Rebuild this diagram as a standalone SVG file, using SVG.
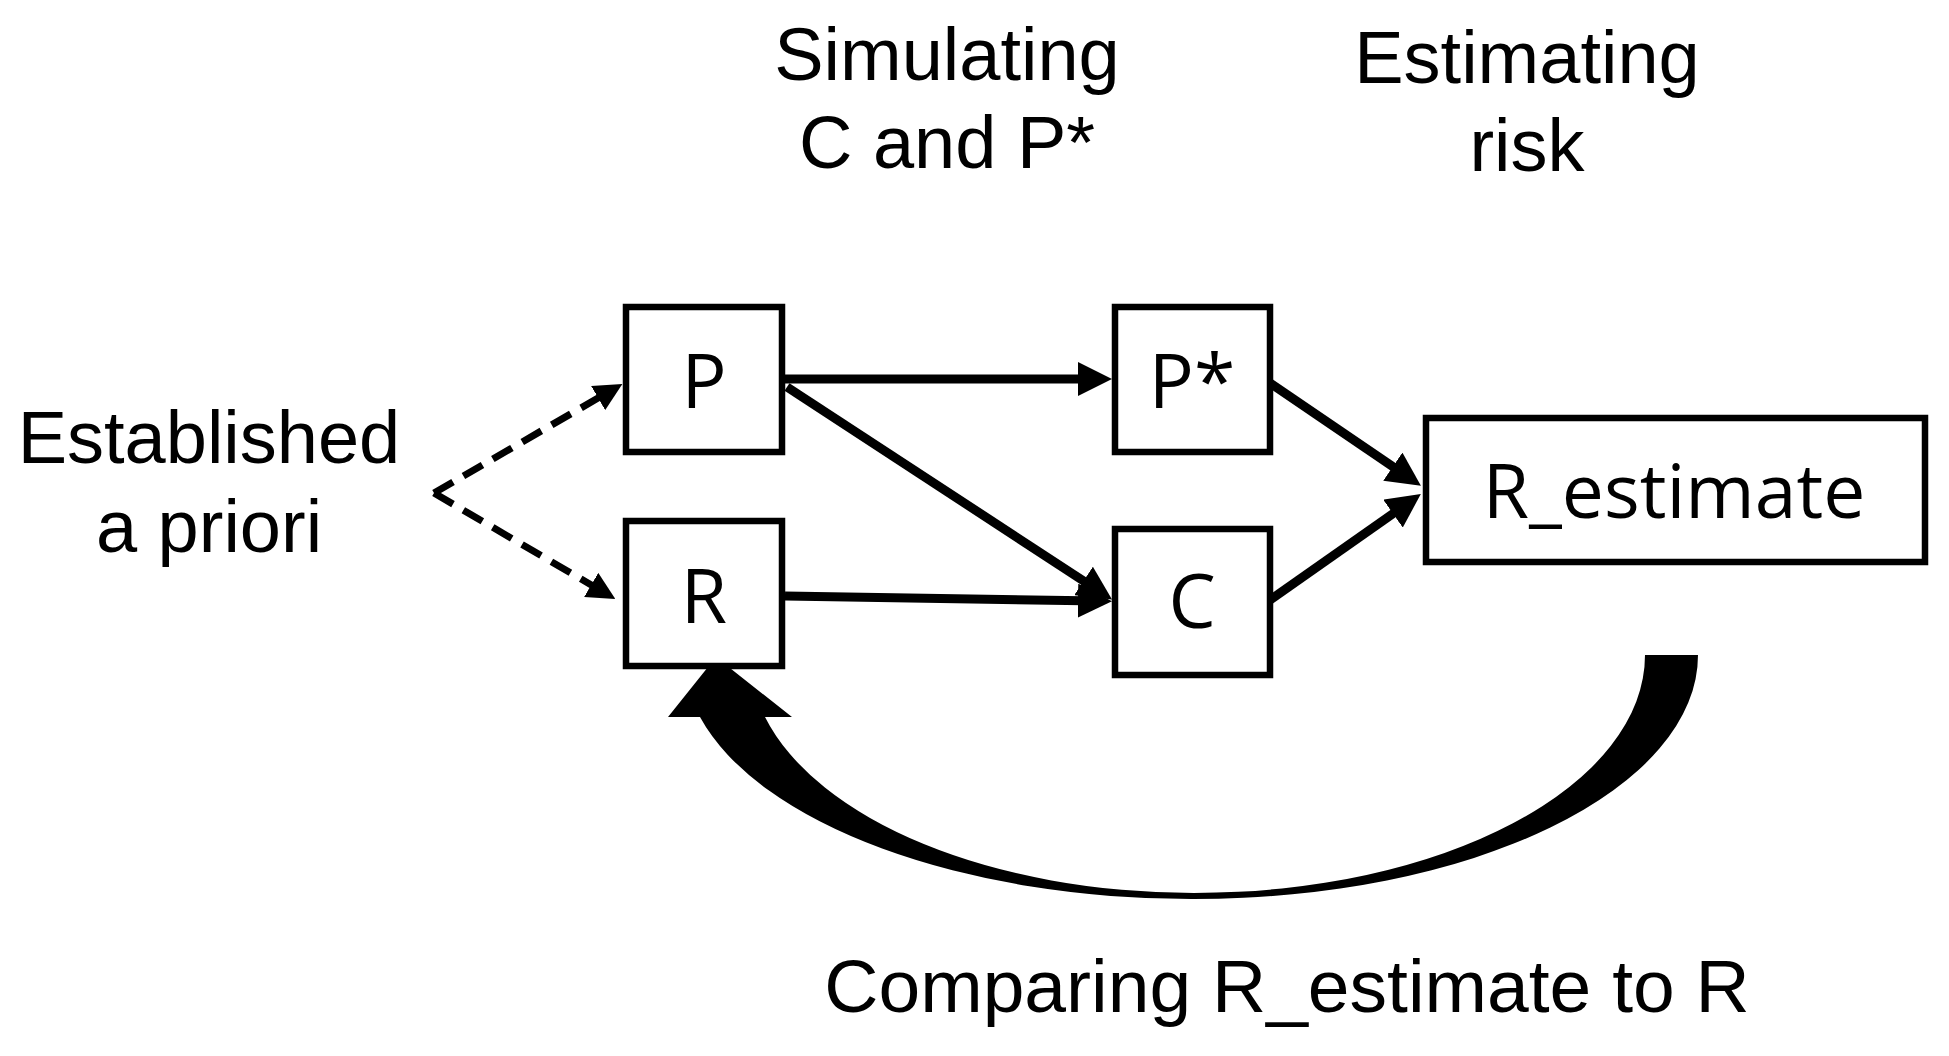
<svg xmlns="http://www.w3.org/2000/svg" width="1949" height="1056" viewBox="0 0 1949 1056">
  <style>
    .box { fill: #ffffff; stroke: #000000; stroke-width: 6.5; }
    .lbl { font-family: "Open Sans", "Noto Sans", sans-serif; font-size: 75px; fill: #000000; text-anchor: middle; }
    .cap { font-family: "Liberation Sans", Arial, sans-serif; font-size: 74px; fill: #000000; text-anchor: middle; }
    .solid { fill: none; stroke: #000000; stroke-width: 9; marker-end: url(#head); }
    .dash { fill: none; stroke: #000000; stroke-width: 7; stroke-dasharray: 22 12; marker-end: url(#headDash); }
  </style>
  <defs>
    <marker id="head" markerUnits="userSpaceOnUse" viewBox="0 0 34 34" markerWidth="34" markerHeight="34" refX="22" refY="17" orient="auto">
      <path d="M0,0 L34,17 L0,34 Z" fill="#000000"/>
    </marker>
    <marker id="headDash" markerUnits="userSpaceOnUse" viewBox="0 0 28 28" markerWidth="28" markerHeight="28" refX="16" refY="14" orient="auto">
      <path d="M0,0 L28,14 L0,28 Z" fill="#000000"/>
    </marker>
  </defs>

  <rect width="1949" height="1056" fill="#ffffff"/>

  <g id="title-simulating">
    <text class="cap" x="947" y="80">Simulating</text>
    <text class="cap" x="947" y="168">C and P*</text>
  </g>
  <g id="title-estimating">
    <text class="cap" x="1527" y="83">Estimating</text>
    <text class="cap" x="1527" y="171">risk</text>
  </g>
  <g id="label-apriori">
    <text class="cap" x="209" y="463">Established</text>
    <text class="cap" x="209" y="552">a priori</text>
  </g>
  <g id="label-compare">
    <text class="cap" x="1287" y="1012" style="font-size:75px">Comparing R_estimate to R</text>
  </g>

  <g id="connectors">
    <path class="dash" d="M434,493 L612,390"/>
    <path class="dash" d="M434,493 L605,593"/>
    <line class="solid" x1="785" y1="379" x2="1100" y2="379"/>
    <line class="solid" x1="787" y1="387" x2="1102" y2="593"/>
    <line class="solid" x1="785" y1="596" x2="1100" y2="601"/>
    <line class="solid" x1="1270" y1="383" x2="1411" y2="479"/>
    <line class="solid" x1="1270" y1="600" x2="1411" y2="501"/>
    <path id="feedback-arrow" fill="#000000" d="M1698,655 A504,244 0 0 1 1194,899 A508,244 0 0 1 700,717 L668,717 L716,657 L792,717 L765,717 A444,238 0 0 0 1194,893 A451,238 0 0 0 1645,655 Z"/>
  </g>

  <g id="node-P">
    <rect class="box" x="626" y="307" width="156" height="145"/>
    <text class="lbl" x="704" y="408">P</text>
  </g>
  <g id="node-R">
    <rect class="box" x="626" y="521" width="156" height="145"/>
    <text class="lbl" x="704" y="623">R</text>
  </g>
  <g id="node-Pstar">
    <rect class="box" x="1115" y="307" width="155" height="145"/>
    <text class="lbl" x="1192" y="408">P*</text>
  </g>
  <g id="node-C">
    <rect class="box" x="1115" y="529" width="155" height="146"/>
    <text class="lbl" x="1192" y="628">C</text>
  </g>
  <g id="node-Restimate">
    <rect class="box" x="1426" y="418" width="499" height="144"/>
    <text class="lbl" x="1674" y="518">R_estimate</text>
  </g>
</svg>
